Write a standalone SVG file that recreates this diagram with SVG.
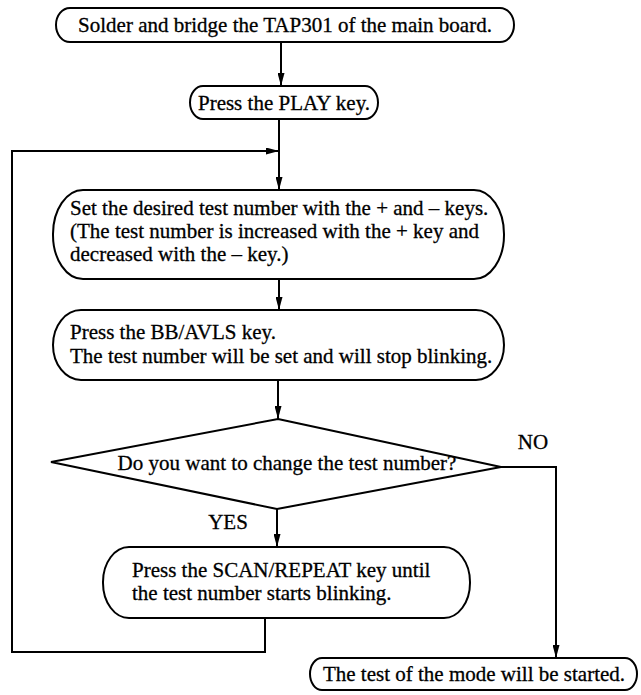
<svg xmlns="http://www.w3.org/2000/svg" width="641" height="695" viewBox="0 0 641 695">
  <defs>
    <style>
      .box { fill: #fff; stroke: #000; stroke-width: 2; }
      .wire { fill: none; stroke: #000; stroke-width: 2; }
      .lbl { font-family: "Liberation Serif", "Times New Roman", serif; font-size: 21px; fill: #000; stroke: #000; stroke-width: 0.3; }
      .mid { text-anchor: middle; }
    </style>
    <marker id="arrow" viewBox="0 0 13 7" refX="13" refY="3.5" markerWidth="13" markerHeight="7" markerUnits="userSpaceOnUse" orient="auto">
      <path d="M0,0 L13,3.5 L0,7 Z" fill="#000"/>
    </marker>
  </defs>
  <rect width="641" height="695" fill="#fff"/>

  <!-- connectors -->
  <g id="connectors">
    <line class="wire" x1="281" y1="42" x2="281" y2="86" marker-end="url(#arrow)"/>
    <line class="wire" x1="279" y1="119" x2="279" y2="190" marker-end="url(#arrow)"/>
    <line class="wire" x1="279" y1="279" x2="279" y2="310" marker-end="url(#arrow)"/>
    <line class="wire" x1="278" y1="380" x2="278" y2="419" marker-end="url(#arrow)"/>
    <line class="wire" x1="277" y1="509" x2="277" y2="547" marker-end="url(#arrow)"/>
    <!-- loop back to the test number step -->
    <polyline class="wire" points="265,618 265,652 12,652 12,151 279,151" marker-end="url(#arrow)"/>
    <!-- NO branch -->
    <polyline class="wire" points="501,467 556,467 556,658" marker-end="url(#arrow)"/>
  </g>

  <g id="start">
    <rect class="box" x="56" y="8" width="458" height="34" rx="14" ry="17"/>
    <text class="lbl mid" x="285" y="32">Solder and bridge the TAP301 of the main board.</text>
  </g>

  <g id="play">
    <rect class="box" x="190" y="86" width="188" height="33" rx="13" ry="16.5"/>
    <text class="lbl mid" x="284" y="110">Press the PLAY key.</text>
  </g>

  <g id="set-number">
    <rect class="box" x="53" y="190" width="451" height="89" rx="30" ry="44"/>
    <text class="lbl" x="70" y="215">Set the desired test number with the + and – keys.</text>
    <text class="lbl" x="70" y="238">(The test number is increased with the + key and</text>
    <text class="lbl" x="70" y="261">decreased with the – key.)</text>
  </g>

  <g id="bb-avls">
    <rect class="box" x="53" y="310" width="451" height="70" rx="28" ry="35"/>
    <text class="lbl" x="70" y="339">Press the BB/AVLS key.</text>
    <text class="lbl" x="70" y="363">The test number will be set and will stop blinking.</text>
  </g>

  <g id="decision">
    <polygon class="box" points="278,419 501,467 277,509 51,462"/>
    <text class="lbl mid" x="287" y="470">Do you want to change the test number?</text>
    <text class="lbl mid" x="533" y="449">NO</text>
    <text class="lbl mid" x="228" y="529">YES</text>
  </g>

  <g id="scan-repeat">
    <rect class="box" x="103" y="547" width="367" height="71" rx="26" ry="35"/>
    <text class="lbl" x="132" y="577">Press the SCAN/REPEAT key until</text>
    <text class="lbl" x="132" y="600">the test number starts blinking.</text>
  </g>

  <g id="mode-test">
    <rect class="box" x="310" y="658" width="327" height="32" rx="12" ry="16"/>
    <text class="lbl mid" x="474" y="681">The test of the mode will be started.</text>
  </g>
</svg>
